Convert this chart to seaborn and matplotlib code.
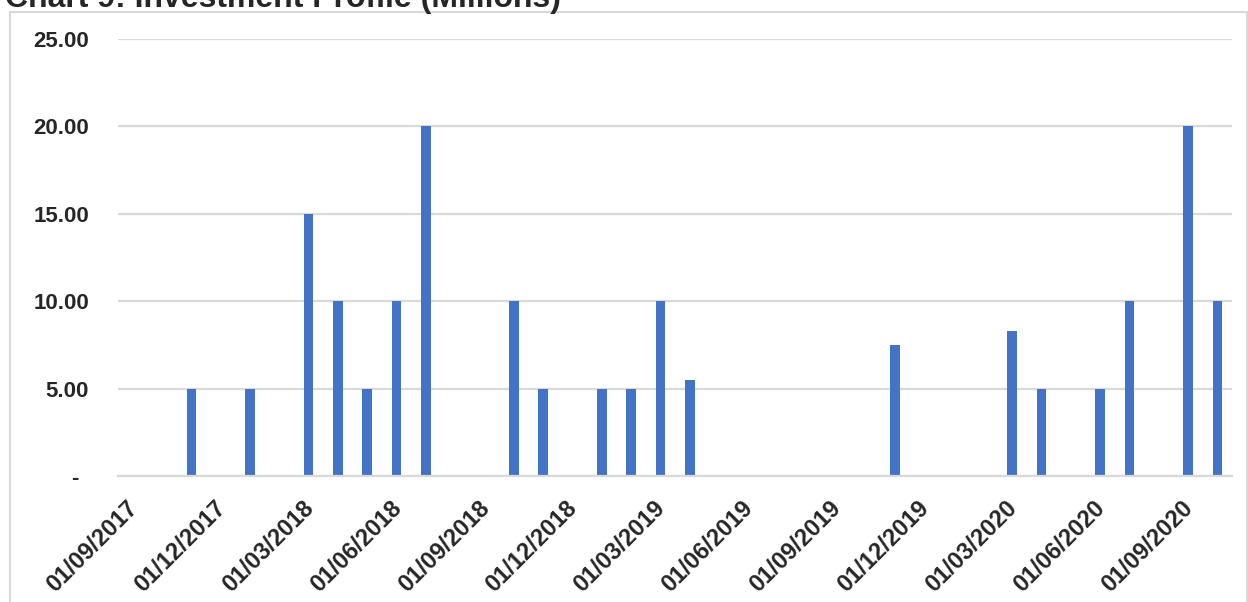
import pandas as pd
import seaborn as sns
import matplotlib.pyplot as plt
import matplotlib.transforms as mtransforms
from matplotlib.patches import Rectangle

# Monatliche Kategorien Sep 2017 - Okt 2020
months = ['2017-09', '2017-10', '2017-11', '2017-12',
          '2018-01', '2018-02', '2018-03', '2018-04', '2018-05', '2018-06',
          '2018-07', '2018-08', '2018-09', '2018-10', '2018-11', '2018-12',
          '2019-01', '2019-02', '2019-03', '2019-04', '2019-05', '2019-06',
          '2019-07', '2019-08', '2019-09', '2019-10', '2019-11', '2019-12',
          '2020-01', '2020-02', '2020-03', '2020-04', '2020-05', '2020-06',
          '2020-07', '2020-08', '2020-09', '2020-10']
investment = [0, 0, 5, 0,
              5, 0, 15, 10, 5, 10,
              20, 0, 0, 10, 5, 0,
              5, 5, 10, 5.5, 0, 0,
              0, 0, 0, 0, 7.5, 0,
              0, 0, 8.3, 5, 0, 5,
              10, 0, 20, 10]
tick_labels = ['01/09/2017', '01/12/2017', '01/03/2018', '01/06/2018',
               '01/09/2018', '01/12/2018', '01/03/2019', '01/06/2019',
               '01/09/2019', '01/12/2019', '01/03/2020', '01/06/2020',
               '01/09/2020']
y_ticks = [0, 5, 10, 15, 20, 25]
y_labels = ['-', '5.00', '10.00', '15.00', '20.00', '25.00']

df = pd.DataFrame({'month': months, 'value': investment})

sns.set_style('white')
plt.rcParams['font.family'] = ['Liberation Sans', 'DejaVu Sans']

fig = plt.figure(figsize=(12.48, 6.02), dpi=100)
ax = fig.add_axes([0.0946, 0.2093, 0.8926, 0.7259])

sns.barplot(data=df, x='month', y='value', color='#4472C4', width=0.33,
            saturation=1, linewidth=0, ax=ax)

ax.set_xlim(-0.5, len(months) - 0.5)
ax.set_ylim(0, 25)
ax.set_xlabel('')
ax.set_ylabel('')

# Gitter und Achsen
ax.set_yticks(y_ticks)
ax.set_yticklabels(y_labels, fontsize=16, fontweight='bold')
ax.yaxis.grid(True, color='#d9d9d9', linewidth=1.6)
ax.set_axisbelow(True)
ax.tick_params(axis='y', length=0, pad=21)
for s in ['left', 'right', 'top']:
    ax.spines[s].set_visible(False)
ax.spines['bottom'].set_color('#d9d9d9')
ax.spines['bottom'].set_linewidth(1.6)

# Quartalsbeschriftungen an den Kategoriegrenzen
ax.set_xticks([-0.5 + 3 * i for i in range(len(tick_labels))])
ax.set_xticklabels(tick_labels, fontsize=17, fontweight='bold', rotation=45,
                   ha='right', va='center', rotation_mode='anchor')
ax.tick_params(axis='x', length=5.5, width=1.2, color='#d9d9d9', direction='out', pad=0)
offset = mtransforms.ScaledTranslation(0.16, -0.21, fig.dpi_scale_trans)
for lbl in ax.get_xticklabels():
    lbl.set_transform(lbl.get_transform() + offset)

# "-" fuer Null etwas weiter links
zero_lbl = ax.get_yticklabels()[0]
zero_lbl.set_transform(zero_lbl.get_transform() +
                       mtransforms.ScaledTranslation(-0.10, 0, fig.dpi_scale_trans))

# Rahmen und Titel
fig.patches.append(Rectangle((10 / 1248, -0.05), 1237 / 1248, 1.05 - 12 / 602,
                             transform=fig.transFigure, fill=False,
                             edgecolor='#d9d9d9', linewidth=1.5))
fig.text(5 / 1248, 1 - 7 / 602, 'Chart 9: Investment Profile (Millions)',
         fontsize=23, fontweight='bold', va='baseline', ha='left')

fig.savefig('out.png', dpi=100)
